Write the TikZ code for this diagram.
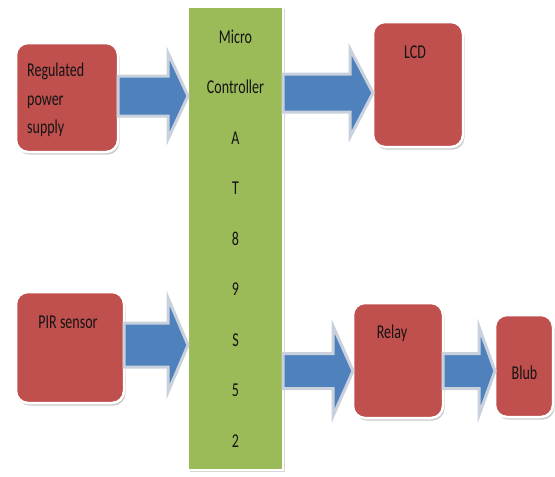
\documentclass[tikz,border=0pt]{standalone}
\usepackage{fontspec}
\usepackage{graphicx}
\setmainfont{Carlito}
\usetikzlibrary{calc,shadows}
\definecolor{boxred}{HTML}{C0504D}
\definecolor{boxgreen}{HTML}{9BBB59}
\definecolor{arrowblue}{HTML}{4F81BD}
\definecolor{glow}{HTML}{C9D1DD}
\definecolor{txt}{HTML}{141414}
\newcommand\tx[1]{\scalebox{1}[1.4]{#1}}
\tikzset{
  redbox/.style={fill=boxred, draw=white, line width=2.5pt, rounded corners=12pt,
    drop shadow={shadow xshift=1.5pt, shadow yshift=-2.5pt, fill=black!35, opacity=0.6},
    inner sep=0pt, outer sep=0pt},
  mcbox/.style={fill=boxgreen, draw=white, line width=2pt,
    drop shadow={shadow xshift=1.5pt, shadow yshift=-2pt, fill=black!25, opacity=0.6},
    inner sep=0pt, outer sep=0pt, align=center, text=txt,
    font=\fontsize{14}{50.5}\selectfont},
  lbl/.style={font=\fontsize{14}{28.5}\selectfont, text=txt, inner sep=0pt},
  barrow/.style={fill=arrowblue, draw=glow, line width=3pt, line join=miter}
}
% from, to, y, shaft half, head half, head length
\newcommand\blockarrow[6]{%
  \draw[barrow] let \p1=(#1.east), \p2=(#2.west) in
    (\x1,{#3+#4}) -- ({\x2-#6},{#3+#4}) -- ({\x2-#6},{#3+#5}) -- (\x2,#3)
    -- ({\x2-#6},{#3-#5}) -- ({\x2-#6},{#3-#4}) -- (\x1,{#3-#4}) -- cycle;}
\begin{document}
\begin{tikzpicture}
\useasboundingbox (0pt,0pt) rectangle (555pt,-477pt);
\fill[white] (0pt,0pt) rectangle (555pt,-477pt);
% boxes
\node[mcbox, minimum width=95pt, minimum height=463pt] (mc) at (235.5pt,-238.5pt)
  {\tx{Micro}\\\tx{Controller}\\\tx{A}\\\tx{T}\\\tx{8}\\\tx{9}\\\tx{S}\\\tx{5}\\\tx{2}};
\node[redbox, minimum width=102pt, minimum height=109pt] (rps) at (67pt,-97.5pt) {};
\node[redbox, minimum width=90pt, minimum height=125pt] (lcd) at (418pt,-84.5pt) {};
\node[redbox, minimum width=108pt, minimum height=111pt] (pir) at (70pt,-347.5pt) {};
\node[redbox, minimum width=90pt, minimum height=115pt] (relay) at (398pt,-360.5pt) {};
\node[redbox, minimum width=58pt, minimum height=102pt] (blub) at (524pt,-366pt) {};
% texts
\node[lbl, align=left, anchor=north west] (rpstext) at ($(rps.north west)+(11pt,-20pt)$)
  {\tx{Regulated}\\\tx{power}\\\tx{supply}};
\node[lbl] (lcdtext) at ($(lcd.north)+(-3pt,-30pt)$) {\tx{LCD}};
\node[lbl] (pirtext) at ($(pir.north)+(-2pt,-30pt)$) {\tx{PIR sensor}};
\node[lbl] (relaytext) at ($(relay.north)+(-6pt,-30pt)$) {\tx{Relay}};
\node[lbl] (blubtext) at ($(blub.center)+(0.5pt,-7pt)$) {\tx{Blub}};
% arrows
\blockarrow{rps}{mc}{-96pt}{20pt}{43pt}{20pt}
\blockarrow{mc}{lcd}{-93pt}{19pt}{44pt}{23pt}
\blockarrow{pir}{mc}{-345pt}{22pt}{47pt}{20pt}
\blockarrow{mc}{relay}{-371pt}{17.5pt}{45pt}{20pt}
\blockarrow{relay}{blub}{-371pt}{17.5pt}{44pt}{16pt}
\end{tikzpicture}
\end{document}
